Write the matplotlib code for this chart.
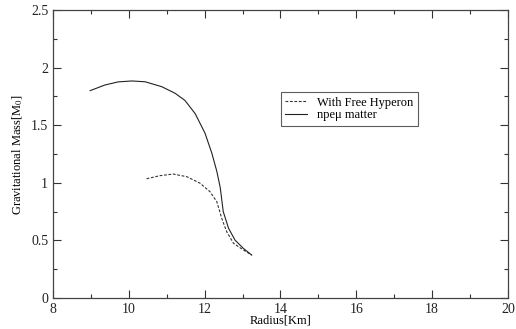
import numpy as np
import matplotlib
matplotlib.use('Agg')
import matplotlib.pyplot as plt
from matplotlib.ticker import MultipleLocator, FormatStrFormatter

plt.rcParams['font.family'] = ['Liberation Serif', 'DejaVu Serif']
plt.rcParams['mathtext.fontset'] = 'stix'

# npe-mu matter (solid)
r_npe = [8.98, 9.37, 9.72, 10.08, 10.43, 10.87, 11.22, 11.48, 11.75, 12.01, 12.19, 12.32, 12.41, 12.49, 12.63, 12.80, 13.02, 13.24]
m_npe = [1.80, 1.849, 1.876, 1.884, 1.877, 1.834, 1.777, 1.715, 1.60, 1.43, 1.256, 1.10, 0.96, 0.75, 0.605, 0.503, 0.431, 0.373]

# with free hyperon (dashed)
r_hyp = [10.47, 10.82, 11.17, 11.53, 11.88, 12.14, 12.32, 12.45, 12.58, 12.76, 13.02, 13.24]
m_hyp = [1.035, 1.062, 1.076, 1.053, 0.996, 0.923, 0.836, 0.692, 0.576, 0.475, 0.417, 0.373]

fig = plt.figure(figsize=(5.16, 3.29), dpi=100)
ax = fig.add_axes([53/516, 1 - 298/329, 455/516, 288/329])

ax.plot(r_hyp, m_hyp, color='#333333', lw=0.8, ls=(0, (2.5, 1.5)), label='With Free Hyperon')
ax.plot(r_npe, m_npe, color='#222222', lw=0.8, label='npeμ matter')

ax.set_xlim(8, 20)
ax.set_ylim(0, 2.5)
ax.xaxis.set_major_locator(MultipleLocator(2))
ax.xaxis.set_minor_locator(MultipleLocator(1))
ax.yaxis.set_major_locator(MultipleLocator(0.5))
ax.yaxis.set_minor_locator(MultipleLocator(0.25))
ax.yaxis.set_major_formatter(FormatStrFormatter('%g'))
ax.tick_params(which='both', direction='in', top=True, right=True, labelsize=10, width=0.8, colors='#333333', labelcolor='#222222')
ax.tick_params(which='major', length=6)
ax.tick_params(which='minor', length=3)
for s in ax.spines.values():
    s.set_linewidth(0.9)
    s.set_color('#444444')

ax.set_xlabel('Radius[Km]', fontsize=9, labelpad=-1)
ax.set_ylabel(r'Gravitational Mass[M$_0$]', fontsize=9, labelpad=4)

leg = ax.legend(loc='upper left', bbox_to_anchor=(0.50, 0.714), fontsize=9, frameon=True, fancybox=False,
                handlelength=1.8, handletextpad=0.8, borderpad=0.35, labelspacing=0.05, borderaxespad=0)
leg.get_frame().set_edgecolor('#333333')
leg.get_frame().set_linewidth(0.8)

plt.savefig('out.png', dpi=100)
plt.close()
